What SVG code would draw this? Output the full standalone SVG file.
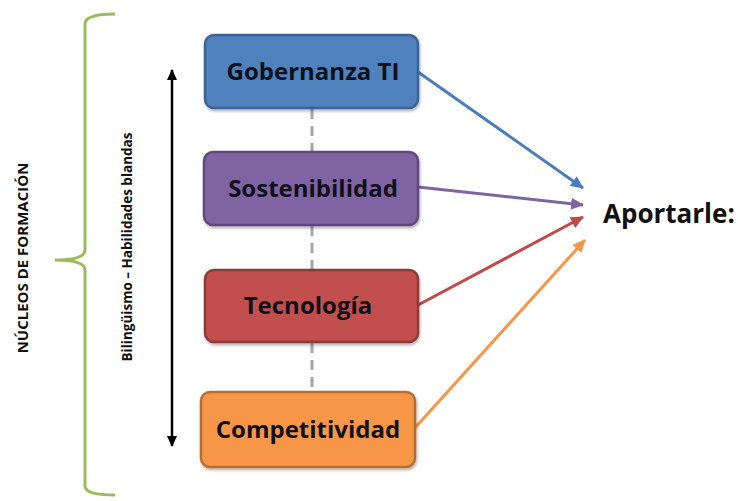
<svg xmlns="http://www.w3.org/2000/svg" width="738" height="501" viewBox="0 0 738 501">
<style>
.box{stroke-width:2.5}
.lbl{font-family:"Open Sans","Liberation Sans",sans-serif;font-weight:bold;font-size:24px;fill:#10101c;text-anchor:middle}
.dash{stroke:#a6a6a6;stroke-width:3;stroke-dasharray:10 7;fill:none}
.conn{stroke-width:3;fill:none}
.side{font-family:"Open Sans","Liberation Sans",sans-serif;fill:#111;text-anchor:middle}
</style>
<defs>
<marker id="hBlue" markerWidth="14" markerHeight="14" refX="12" refY="7" orient="auto" markerUnits="userSpaceOnUse"><path d="M0,1 L13,7 L0,13 Z" fill="#4a7ebb"/></marker>
<marker id="hPurple" markerWidth="14" markerHeight="14" refX="12" refY="7" orient="auto" markerUnits="userSpaceOnUse"><path d="M0,1 L13,7 L0,13 Z" fill="#8064a2"/></marker>
<marker id="hRed" markerWidth="14" markerHeight="14" refX="12" refY="7" orient="auto" markerUnits="userSpaceOnUse"><path d="M0,1 L13,7 L0,13 Z" fill="#be4b48"/></marker>
<marker id="hOrange" markerWidth="14" markerHeight="14" refX="12" refY="7" orient="auto" markerUnits="userSpaceOnUse"><path d="M0,1 L13,7 L0,13 Z" fill="#f79646"/></marker>
<marker id="hBlack" markerWidth="12" markerHeight="12" refX="10" refY="6" orient="auto-start-reverse" markerUnits="userSpaceOnUse"><path d="M0,1 L11,6 L0,11 Z" fill="#000"/></marker>
<filter id="sh" x="-10%" y="-10%" width="130%" height="140%"><feDropShadow dx="1" dy="2" stdDeviation="1.5" flood-color="#000" flood-opacity="0.3"/></filter>
</defs>

<g id="bracket">
<path d="M115,14 Q85,14 85,24 L85,250 Q85,260 55,260 Q85,260 85,270 L85,486 Q85,495 115,495" fill="none" stroke="#9bbb59" stroke-width="3"/>
</g>
<g id="nucleos-label">
<text class="side" font-size="15" font-weight="bold" transform="translate(28,258) rotate(-90)">NÚCLEOS DE FORMACIÓN</text>
</g>
<g id="bilinguismo">
<line x1="172" y1="70" x2="172" y2="446" stroke="#000" stroke-width="2.5" marker-start="url(#hBlack)" marker-end="url(#hBlack)"/>
<text class="side" font-size="13.5" font-weight="bold" transform="translate(132,247) rotate(-90)">Bilingüismo – Habilidades blandas</text>
</g>

<g id="connectors">
<line class="dash" x1="312" y1="109" x2="312" y2="152"/>
<line class="dash" x1="312" y1="226" x2="312" y2="270"/>
<line class="dash" x1="312" y1="343" x2="312" y2="392"/>
<line class="conn" stroke="#4a7ebb" x1="418" y1="72" x2="583" y2="188" marker-end="url(#hBlue)"/>
<line class="conn" stroke="#8064a2" x1="418" y1="187" x2="583" y2="205" marker-end="url(#hPurple)"/>
<line class="conn" stroke="#be4b48" x1="418" y1="305" x2="583" y2="217" marker-end="url(#hRed)"/>
<line class="conn" stroke="#f79646" x1="413" y1="430" x2="585" y2="240" marker-end="url(#hOrange)"/>
</g>

<g id="gobernanza">
<rect class="box" x="205" y="35" width="213" height="73" rx="9" fill="#4f81bd" stroke="#3a6396" filter="url(#sh)"/>
<text class="lbl" x="313" y="80">Gobernanza TI</text>
</g>
<g id="sostenibilidad">
<rect class="box" x="204" y="152" width="214" height="73" rx="9" fill="#8064a2" stroke="#5e4a7b" filter="url(#sh)"/>
<text class="lbl" x="313" y="197">Sostenibilidad</text>
</g>
<g id="tecnologia">
<rect class="box" x="205" y="270" width="213" height="72" rx="9" fill="#c0504d" stroke="#8e3a38" filter="url(#sh)"/>
<text class="lbl" x="308" y="314">Tecnología</text>
</g>
<g id="competitividad">
<rect class="box" x="201" y="392" width="214" height="75" rx="9" fill="#f79646" stroke="#b86e30" filter="url(#sh)"/>
<text class="lbl" x="308" y="438">Competitividad</text>
</g>
<g id="aportarle">
<text x="603" y="223" font-family="Open Sans, Liberation Sans, sans-serif" font-weight="bold" font-size="26" fill="#111">Aportarle:</text>
</g>
</svg>
